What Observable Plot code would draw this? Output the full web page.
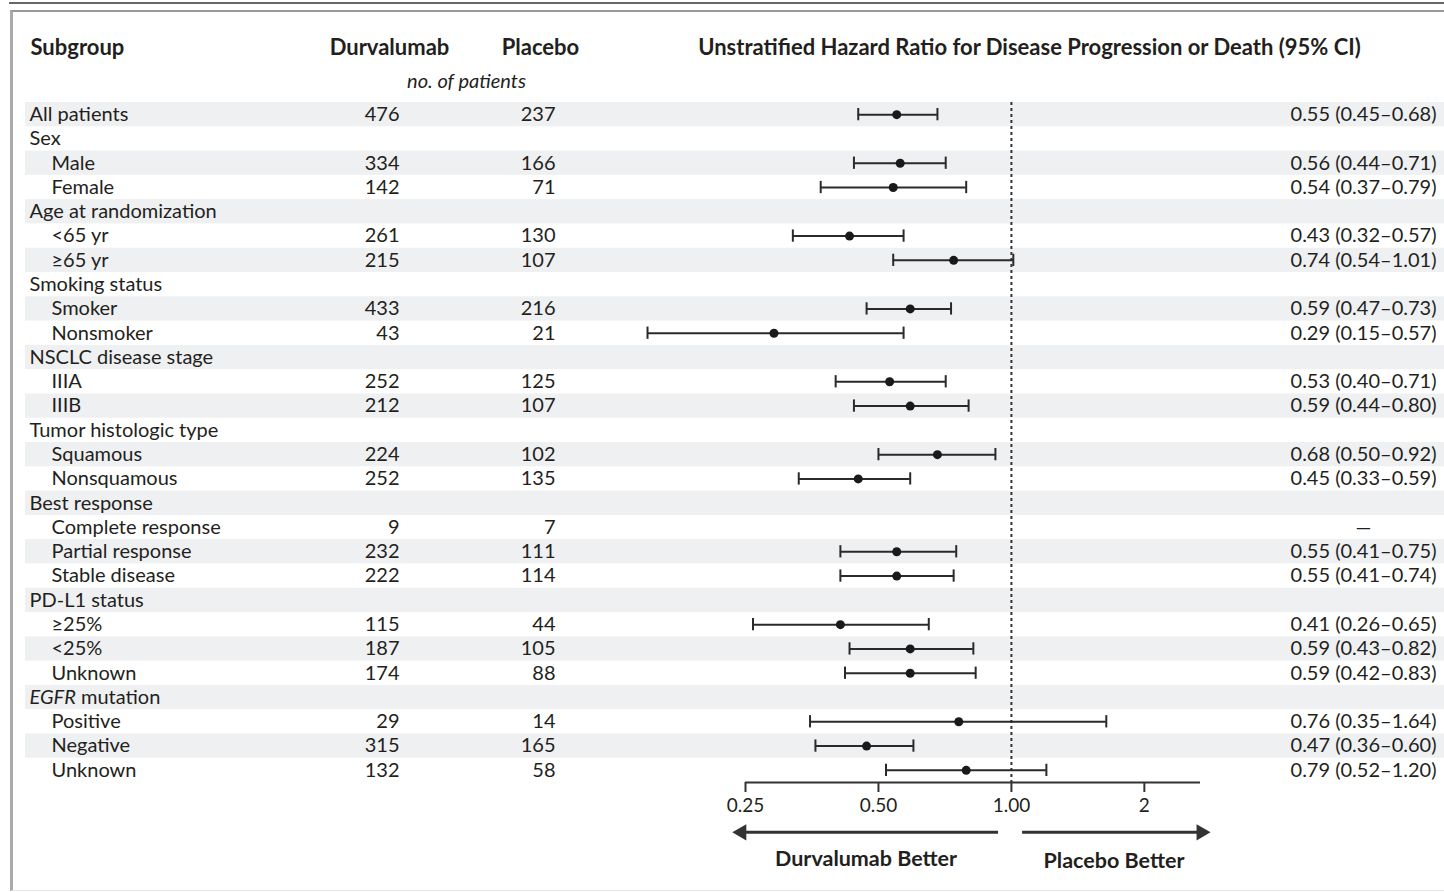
<!DOCTYPE html>
<html>
<head>
<meta charset="utf-8">
<script src="https://cdn.jsdelivr.net/npm/d3@7"></script>
<script src="https://cdn.jsdelivr.net/npm/@observablehq/plot@0.6"></script>
<style>
  html, body { margin: 0; padding: 0; background: #fff; }
  #wrap { position: relative; width: 1444px; height: 892px; overflow: hidden; }
  .rule1 { position: absolute; left: 9px; right: 0; top: 2px; height: 2px; background: #666; }
  .box { position: absolute; left: 10px; right: -10px; top: 10px; bottom: 1px; border-left: 3px solid #aaa; border-top: 2px solid #999; border-bottom: 1px solid #e6e6e6; }
  #chart { position: absolute; left: 0; top: 0; }
</style>
</head>
<body>
<div id="wrap">
  <div class="rule1"></div>
  <div class="box"></div>
  <div id="chart"></div>
</div>
<script>
const labels = ["All patients","Sex","Male","Female","Age at randomization","<65 yr","≥65 yr","Smoking status","Smoker","Nonsmoker","NSCLC disease stage","IIIA","IIIB","Tumor histologic type","Squamous","Nonsquamous","Best response","Complete response","Partial response","Stable disease","PD-L1 status","≥25%","<25%","Unknown","EGFR mutation","Positive","Negative","Unknown"];
const isSub = [0,0,1,1,0,1,1,0,1,1,0,1,1,0,1,1,0,1,1,1,0,1,1,1,0,1,1,1];
const durvalumab = [476,null,334,142,null,261,215,null,433,43,null,252,212,null,224,252,null,9,232,222,null,115,187,174,null,29,315,132];
const placebo = [237,null,166,71,null,130,107,null,216,21,null,125,107,null,102,135,null,7,111,114,null,44,105,88,null,14,165,58];
const hr = [0.55,null,0.56,0.54,null,0.43,0.74,null,0.59,0.29,null,0.53,0.59,null,0.68,0.45,null,null,0.55,0.55,null,0.41,0.59,0.59,null,0.76,0.47,0.79];
const lo = [0.45,null,0.44,0.37,null,0.32,0.54,null,0.47,0.15,null,0.40,0.44,null,0.50,0.33,null,null,0.41,0.41,null,0.26,0.43,0.42,null,0.35,0.36,0.52];
const hi = [0.68,null,0.71,0.79,null,0.57,1.01,null,0.73,0.57,null,0.71,0.80,null,0.92,0.59,null,null,0.75,0.74,null,0.65,0.82,0.83,null,1.64,0.60,1.20];
const noEstimate = [17];
const xTicks = [0.25, 0.5, 1, 2];
const xTickLabels = ["0.25", "0.50", "1.00", "2"];
const xDomain = [0.25, 2.68];

const rows = labels.map((label, i) => ({
  i, label, sub: !!isSub[i],
  durv: durvalumab[i], plac: placebo[i],
  hr: hr[i], lo: lo[i], hi: hi[i]
}));
const est = rows.filter(d => d.hr != null);
const counts = rows.filter(d => d.durv != null);
const last = rows.length - 1;
const ink = "#231f20";
const fmt = v => v.toFixed(2);

const W = 1444, H = 892, mL = 745, mR = 244, mT = 102, mB = 110;
const step = (H - mT - mB) / rows.length;

const head = {fontWeight: "bold", fontSize: 22, fill: ink, lineAnchor: "middle"};

const plot = Plot.plot({
  width: W, height: H,
  marginLeft: mL, marginRight: mR, marginTop: mT, marginBottom: mB,
  style: {fontFamily: "Lato, 'Open Sans', sans-serif", fontSize: "20px", color: ink, background: "transparent", overflow: "visible"},
  x: {type: "log", domain: xDomain},
  y: {type: "band", domain: rows.map(d => d.i), padding: 0, round: false, axis: null},
  marks: [
    // stripes
    Plot.cell(rows.filter(d => d.i % 2 === 0), {y: "i", fill: "#eff0f2", insetLeft: -(mL - 25), insetRight: -mR}),
    // reference line at 1
    Plot.ruleX([1], {stroke: "#333", strokeWidth: 2, strokeDasharray: "3,3"}),
    // CI lines and caps
    Plot.ruleY(est, {y: "i", x1: "lo", x2: "hi", stroke: "#2a2a2a", strokeWidth: 2}),
    Plot.tickX(est, {y: "i", x: "lo", stroke: "#2a2a2a", strokeWidth: 2, insetTop: 6, insetBottom: 6}),
    Plot.tickX(est, {y: "i", x: "hi", stroke: "#2a2a2a", strokeWidth: 2, insetTop: 6, insetBottom: 6}),
    Plot.dot(est, {y: "i", x: "hr", r: 4.5, fill: "#1a1a1a", stroke: null}),
    // axis line
    Plot.ruleY([last], {dy: step / 2, stroke: "#333", strokeWidth: 2}),
    Plot.axisX({ticks: xTicks, tickFormat: d => xTickLabels[xTicks.indexOf(d)], tickSize: 10, tickPadding: 6, fontSize: 19, label: null, stroke: "#333", strokeWidth: 2}),
    // table columns
    Plot.text(rows, {y: "i", text: "label", frameAnchor: "left", textAnchor: "start", lineAnchor: "middle", fill: ink,
      filter: d => !d.sub, dx: -(mL - 29)}),
    Plot.text(rows, {y: "i", text: "label", frameAnchor: "left", textAnchor: "start", lineAnchor: "middle", fill: ink,
      filter: d => d.sub, dx: -(mL - 51)}),
    Plot.text(counts, {y: "i", text: d => String(d.durv), frameAnchor: "left", textAnchor: "end", lineAnchor: "middle", dx: -(mL - 399), fill: ink}),
    Plot.text(counts, {y: "i", text: d => String(d.plac), frameAnchor: "left", textAnchor: "end", lineAnchor: "middle", dx: -(mL - 555), fill: ink}),
    Plot.text(est, {y: "i", text: d => `${fmt(d.hr)} (${fmt(d.lo)}–${fmt(d.hi)})`, frameAnchor: "right", textAnchor: "end", lineAnchor: "middle", dx: 236, fill: ink}),
    Plot.text(noEstimate, {y: d => d, text: () => "—", frameAnchor: "right", textAnchor: "middle", lineAnchor: "middle", dx: 163, fill: ink}),
    // headers
    Plot.text(["Subgroup"], {...head, frameAnchor: "top-left", textAnchor: "start", dx: -(mL - 30), dy: -55}),
    Plot.text(["Durvalumab"], {...head, frameAnchor: "top-left", textAnchor: "middle", dx: -(mL - 389), dy: -55}),
    Plot.text(["Placebo"], {...head, frameAnchor: "top-left", textAnchor: "middle", dx: -(mL - 540), dy: -55}),
    Plot.text(["no. of patients"], {frameAnchor: "top-left", textAnchor: "middle", lineAnchor: "middle", dx: -(mL - 466), dy: -21, fontStyle: "italic", fontSize: 20, fill: ink}),
    Plot.text(["Unstratified Hazard Ratio for Disease Progression or Death (95% CI)"], {...head, frameAnchor: "top", textAnchor: "middle", dx: 1029 - (mL + (W - mR)) / 2, dy: -55}),
    // direction arrows
    Plot.ruleY([last], {x1: 0.935, x2: 0.245, dy: 62, stroke: "#333", strokeWidth: 3}),
    Plot.ruleY([last], {x1: 1.06, x2: 2.69, dy: 62, stroke: "#333", strokeWidth: 3}),
    Plot.dot([last], {y: d => d, x: 0.245, dy: 62, symbol: "triangle", rotate: -90, r: 6, fill: "#333", stroke: null}),
    Plot.dot([last], {y: d => d, x: 2.69, dy: 62, symbol: "triangle", rotate: 90, r: 6, fill: "#333", stroke: null}),
    Plot.text(["Durvalumab Better"], {...head, fontSize: 21.5, frameAnchor: "bottom", x: Math.sqrt(0.235 * 0.935), dy: 77, textAnchor: "middle"}),
    Plot.text(["Placebo Better"], {...head, fontSize: 21.5, frameAnchor: "bottom", x: Math.sqrt(1.06 * 2.75), dy: 79, textAnchor: "middle"})
  ]
});

document.getElementById("chart").appendChild(plot);

// italicize the gene name in "EGFR mutation"
plot.querySelectorAll("text").forEach(t => {
  if (t.textContent === "EGFR mutation") {
    t.textContent = "";
    const ns = "http://www.w3.org/2000/svg";
    const a = document.createElementNS(ns, "tspan");
    a.setAttribute("font-style", "italic");
    a.textContent = "EGFR";
    const b = document.createElementNS(ns, "tspan");
    b.textContent = " mutation";
    t.appendChild(a); t.appendChild(b);
  }
});
</script>
</body>
</html>
